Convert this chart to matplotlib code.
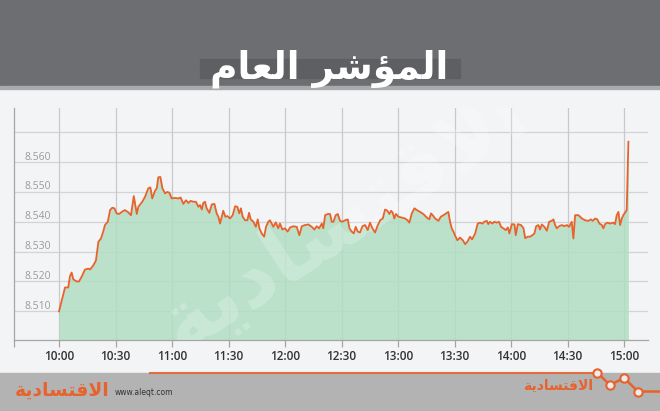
import matplotlib.pyplot as plt
from matplotlib.patches import Rectangle

# minutes after 10:00 and index level (thousands of points)
minutes = [0, 3.2, 4.9, 5.8, 6.7, 7.6, 9.4, 10.6, 12.1, 13.8, 15.6, 16.5, 18.2, 19.6,
           20.9, 22.3, 23.5, 24.4, 25.9, 27.1, 28.3, 29.4, 30.6, 31.9, 33.3, 35.0, 36.5,
           38.2, 39.7, 40.4, 41.3, 42.1, 44.2, 45.7, 47.4, 48.5, 49.5, 51.0, 51.9, 52.7,
           53.8, 54.9, 56.3, 57.5, 58.6, 59.8, 61.6, 63.3, 64.6, 66.0, 67.4, 68.7, 69.9,
           71.3, 72.7, 74.0, 74.9, 75.8, 76.6, 77.5, 78.4, 79.8, 81.1, 82.5, 83.7, 84.6,
           85.5, 86.4, 87.2, 88.3, 89.4, 90.8, 92.2, 93.5, 94.7, 95.7, 96.6, 97.5, 98.8,
           100.0, 100.9, 101.8, 103.2, 104.5, 105.5, 106.4, 107.6, 108.9, 109.9, 111.1,
           112.0, 113.8, 115.1, 116.4, 117.3, 118.6, 120.0, 121.4, 122.7, 124.4, 126.2,
           127.6, 128.9, 130.6, 132.4, 134.2, 135.6, 136.8, 138.1, 139.5, 140.3, 141.3,
           142.7, 143.9, 144.8, 145.7, 146.9, 148.0, 149.2, 150.4, 151.9, 153.3, 154.2,
           155.4, 156.5, 157.5, 158.6, 159.8, 161.1, 162.5, 163.9, 165.1, 166.4, 167.8,
           169.0, 170.5, 171.9, 173.1, 174.3, 175.4, 176.3, 177.2, 178.0, 178.9, 180.2,
           182.0, 183.7, 185.0, 186.0, 187.3, 188.7, 190.0, 191.7, 193.4, 195.3, 196.6,
           197.5, 198.4, 199.7, 201.4, 202.7, 204.1, 205.5, 206.7, 207.6, 208.5, 209.4,
           210.4, 211.5, 212.9, 214.4, 215.6, 216.8, 218.2, 219.3, 220.9, 222.3, 223.5,
           224.8, 225.8, 227.1, 227.9, 228.8, 230.1, 231.1, 232.4, 233.6, 234.7, 235.9,
           237.2, 238.3, 239.1, 240.4, 241.8, 242.5, 243.6, 245.3, 246.6, 247.5, 248.9,
           250.1, 251.3, 252.4, 253.3, 254.5, 255.4, 256.3, 257.7, 259.0, 260.2, 261.6,
           262.5, 263.4, 264.3, 265.5, 266.9, 268.3, 269.6, 270.8, 272.2, 273.1, 274.0,
           275.8, 277.6, 279.3, 281.1, 282.4, 283.4, 284.6, 285.8, 286.9, 288.2, 289.0,
           289.9, 291.1, 292.6, 294.3, 295.2, 296.1, 297.0, 297.9, 298.8, 299.6, 300.5,
           301.4, 302.3]
index_vals = [8.5100, 8.5180, 8.5180, 8.5217, 8.5230, 8.5207, 8.5200, 8.5200, 8.5217,
              8.5240, 8.5243, 8.5240, 8.5254, 8.5270, 8.5333, 8.5344, 8.5368, 8.5389,
              8.5400, 8.5439, 8.5447, 8.5445, 8.5428, 8.5426, 8.5433, 8.5439, 8.5433,
              8.5422, 8.5486, 8.5460, 8.5426, 8.5450, 8.5467, 8.5484, 8.5512, 8.5515,
              8.5478, 8.5504, 8.5512, 8.5549, 8.5550, 8.5512, 8.5495, 8.5500, 8.5497,
              8.5478, 8.5480, 8.5478, 8.5481, 8.5460, 8.5472, 8.5463, 8.5470, 8.5467,
              8.5467, 8.5450, 8.5456, 8.5441, 8.5463, 8.5467, 8.5445, 8.5430, 8.5458,
              8.5460, 8.5428, 8.5417, 8.5394, 8.5417, 8.5437, 8.5417, 8.5419, 8.5411,
              8.5422, 8.5452, 8.5450, 8.5428, 8.5445, 8.5417, 8.5405, 8.5405, 8.5430,
              8.5408, 8.5400, 8.5383, 8.5408, 8.5378, 8.5361, 8.5350, 8.5383, 8.5400,
              8.5405, 8.5383, 8.5398, 8.5378, 8.5394, 8.5374, 8.5378, 8.5367, 8.5381,
              8.5385, 8.5383, 8.5355, 8.5385, 8.5389, 8.5391, 8.5383, 8.5374, 8.5385,
              8.5378, 8.5394, 8.5378, 8.5422, 8.5426, 8.5426, 8.5400, 8.5400, 8.5422,
              8.5426, 8.5403, 8.5400, 8.5405, 8.5408, 8.5378, 8.5367, 8.5361, 8.5383,
              8.5367, 8.5364, 8.5385, 8.5389, 8.5372, 8.5397, 8.5378, 8.5364, 8.5385,
              8.5405, 8.5411, 8.5441, 8.5437, 8.5426, 8.5437, 8.5430, 8.5411, 8.5426,
              8.5417, 8.5414, 8.5411, 8.5405, 8.5397, 8.5428, 8.5445, 8.5439, 8.5433,
              8.5426, 8.5414, 8.5408, 8.5428, 8.5422, 8.5411, 8.5403, 8.5417, 8.5422,
              8.5428, 8.5433, 8.5400, 8.5378, 8.5367, 8.5352, 8.5338, 8.5347, 8.5338,
              8.5325, 8.5333, 8.5350, 8.5341, 8.5360, 8.5394, 8.5397, 8.5394, 8.5400,
              8.5403, 8.5392, 8.5400, 8.5394, 8.5400, 8.5397, 8.5400, 8.5383, 8.5378,
              8.5372, 8.5381, 8.5361, 8.5392, 8.5391, 8.5355, 8.5392, 8.5389, 8.5378,
              8.5345, 8.5350, 8.5350, 8.5355, 8.5361, 8.5385, 8.5389, 8.5374, 8.5391,
              8.5383, 8.5370, 8.5400, 8.5403, 8.5408, 8.5389, 8.5378, 8.5385, 8.5389,
              8.5385, 8.5389, 8.5383, 8.5400, 8.5344, 8.5422, 8.5422, 8.5411, 8.5405,
              8.5403, 8.5408, 8.5403, 8.5411, 8.5408, 8.5394, 8.5389, 8.5378, 8.5392,
              8.5397, 8.5394, 8.5397, 8.5392, 8.5422, 8.5433, 8.5389, 8.5411, 8.5422,
              8.5430, 8.5439, 8.5668]

tick_minutes = [0, 30, 60, 90, 120, 150, 180, 210, 240, 270, 300]
tick_labels = ["10:00", "10:30", "11:00", "11:30", "12:00", "12:30",
               "13:00", "13:30", "14:00", "14:30", "15:00"]
grid_vals = [8.510, 8.520, 8.530, 8.540, 8.550, 8.560, 8.570]
label_vals = [8.510, 8.520, 8.530, 8.540, 8.550, 8.560]

# arabic strings written in visual order with presentation forms (no shaping in matplotlib)
title = "\uFEE1\uFE8E\uFECC\uFEDF\uFE8D \uFEAE\uFEB7\uFE86\uFEE4\uFEDF\uFE8D"   # المؤشر العام
logo = "\uFE94\uFEF3\uFEA9\uFE8E\uFEB4\uFE98\uFED7\uFEFB\uFE8D"               # الاقتصادية

W, H = 660, 411
orange = "#e8622c"

fig = plt.figure(figsize=(6.6, 4.11), dpi=100)
fig.patch.set_facecolor("#f3f4f6")

bg = fig.add_axes([0, 0, 1, 1])
bg.set_xlim(0, W)
bg.set_ylim(H, 0)
bg.axis("off")

# header band
bg.add_patch(Rectangle((0, 0), W, 86, color="#6d6e72"))
bg.add_patch(Rectangle((0, 86), W, 3, color="#a9aaad"))
bg.add_patch(Rectangle((200, 59), 260, 19, color="#5e5f63"))
bg.text(329, 78, title, color="white", fontsize=27, fontweight="bold",
        family="DejaVu Sans", ha="center", va="baseline")

# footer band
bg.add_patch(Rectangle((0, 373), W, 38, color="#b3b3b3"))
bg.plot([150, 597], [372.5, 372.5], color=orange, lw=1.5, alpha=0.9)
zx = [597, 610, 624, 638]
zy = [372.5, 385, 378, 391.5]
bg.plot(zx + [660], zy + [391.5], color=orange, lw=1.8)
bg.plot(zx, zy, "o", ms=6, mfc="#ececec", mec=orange, mew=1.5)
bg.text(15, 390, logo, color=orange, fontsize=13.5, fontweight="bold",
        family="DejaVu Sans", ha="left", va="center")
bg.text(115, 392, "www.aleqt.com", color="#333333", fontsize=5.5,
        ha="left", va="center")
bg.text(593, 386, logo, color=orange, fontsize=10, fontweight="bold",
        family="DejaVu Sans", ha="right", va="center")

# chart
ax = fig.add_axes([14 / W, (H - 340) / H, (648 - 14) / W, (340 - 108) / H])
ax.set_facecolor("none")
x0, x1 = -23.9, 312.7
y0, y1 = 8.5004, 8.5781
ax.set_xlim(x0, x1)
ax.set_ylim(y0, y1)

for v in grid_vals:
    ax.axhline(v, color="#d3d4d6", lw=0.9, zorder=1)
for t in tick_minutes:
    ax.axvline(t, color="#c8c9cb", lw=0.9, zorder=1)

ax.fill_between(minutes, index_vals, y0, color="#b2dec3", alpha=0.85, lw=0, zorder=2)
ax.plot(minutes, index_vals, color=orange, lw=1.3, zorder=4)

# faint watermark
ax.text(0.52, 0.52, logo, transform=ax.transAxes, color="white", alpha=0.22,
        fontsize=60, fontweight="bold", family="DejaVu Sans", rotation=33,
        ha="center", va="center", zorder=3, clip_on=True)

for v in label_vals:
    ax.annotate(f"{v:.3f}", xy=(0.016, v), xycoords=("axes fraction", "data"),
                xytext=(0, 5), textcoords="offset pixels", ha="left", va="center",
                color="#9b9b9b", fontsize=7.5, family="Open Sans")

ax.set_xticks([x0] + tick_minutes)
ax.set_xticklabels([""] + tick_labels, family="Open Sans", fontweight="semibold",
                   fontsize=8.5, color="#333333")
ax.set_yticks([])
ax.tick_params(axis="x", length=5, width=0.9, color="#a5a5a5", pad=2)
for s in ["top", "right"]:
    ax.spines[s].set_visible(False)
for s in ["left", "bottom"]:
    ax.spines[s].set_color("#a5a5a5")
    ax.spines[s].set_linewidth(0.9)

fig.savefig("out.png", dpi=100, facecolor=fig.get_facecolor())
